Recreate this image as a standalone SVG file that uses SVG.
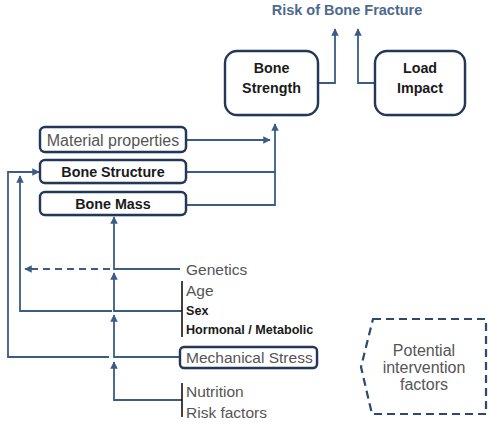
<svg xmlns="http://www.w3.org/2000/svg" width="489" height="425" viewBox="0 0 489 425">
<style>
.box{fill:#fff;stroke:#223856;stroke-width:2.4}
.con{fill:none;stroke:#3b5c84;stroke-width:1.8}
.t{font-family:"Liberation Sans",Arial,sans-serif;fill:#555;font-size:15.5px}
.b{font-family:"Liberation Sans",Arial,sans-serif;fill:#1a1a1a;font-weight:bold;font-size:14.3px}
.s{font-size:12.6px}
.l{font-size:16px}
.bar{stroke:#111;stroke-width:1.6}
</style>
<defs>
<marker id="ah" viewBox="0 0 10 10" refX="9" refY="5" markerWidth="7.5" markerHeight="7.5" markerUnits="userSpaceOnUse" orient="auto"><path d="M0,0 L10,5 L0,10 z" fill="#3b5c84"/></marker>
<filter id="sh" x="-20%" y="-20%" width="140%" height="160%"><feGaussianBlur in="SourceAlpha" stdDeviation="2.2"/><feOffset dx="2" dy="3"/><feComponentTransfer><feFuncA type="linear" slope="0.5"/></feComponentTransfer><feComposite operator="in" in2="SourceAlpha" result="s"/><feFlood flood-color="#2c5a92"/><feComposite operator="in" in2="s"/><feMerge><feMergeNode/><feMergeNode in="SourceGraphic"/></feMerge></filter>
</defs>
<rect width="489" height="425" fill="#fff"/>
<text x="347" y="15" text-anchor="middle" font-family="Liberation Sans,Arial,sans-serif" font-weight="bold" font-size="14.5" fill="#4d6a8c">Risk of Bone Fracture</text>
<g id="connectors">
<path class="con" d="M318,83 H335 V29" marker-end="url(#ah)"/>
<path class="con" d="M375,83 H358 V29" marker-end="url(#ah)"/>
<path class="con" d="M186,140 H270" marker-end="url(#ah)"/>
<path class="con" d="M186,172 H275"/>
<path class="con" d="M186,205 H275 V124" marker-end="url(#ah)"/>
<path class="con" d="M180,269 H114 V217" marker-end="url(#ah)"/>
<path class="con" d="M110,269 H25" stroke-dasharray="7,5" marker-end="url(#ah)"/>
<path class="con" d="M182,311 H114 V273" marker-end="url(#ah)"/>
<path class="con" d="M112,311 H20 V176" marker-end="url(#ah)"/>
<path class="con" d="M180,357 H114 V315" marker-end="url(#ah)"/>
<path class="con" d="M109,357 H8 V172 H39" marker-end="url(#ah)"/>
<path class="con" d="M182,400 H114 V362" marker-end="url(#ah)"/>
</g>
<g id="bone-strength"><rect class="box" x="225" y="51" width="93" height="64" rx="12" filter="url(#sh)"/><text class="b" x="271.5" y="73" text-anchor="middle">Bone</text><text class="b" x="271.5" y="93" text-anchor="middle">Strength</text></g>
<g id="load-impact"><rect class="box" x="375" y="51" width="90" height="64" rx="12" filter="url(#sh)"/><text class="b" x="420" y="73" text-anchor="middle">Load</text><text class="b" x="420" y="93" text-anchor="middle">Impact</text></g>
<g id="material-properties"><rect class="box" x="40" y="127" width="146" height="25" rx="5" stroke-width="1.7" filter="url(#sh)"/><text class="t l" x="113" y="145.5" text-anchor="middle">Material properties</text></g>
<g id="bone-structure"><rect class="box" x="40" y="160" width="146" height="23" rx="5" stroke-width="1.9" filter="url(#sh)"/><text class="b" x="113" y="177" text-anchor="middle">Bone Structure</text></g>
<g id="bone-mass"><rect class="box" x="40" y="192" width="146" height="23" rx="5" stroke-width="1.9" filter="url(#sh)"/><text class="b" x="113" y="209" text-anchor="middle">Bone Mass</text></g>
<g id="genetics"><text class="t" x="186" y="275">Genetics</text></g>
<g id="age-sex-hormonal"><line class="bar" x1="182" y1="281" x2="182" y2="337"/><text class="t" x="186" y="296">Age</text><text class="b s" x="186" y="315">Sex</text><text class="b s" x="186" y="334">Hormonal / Metabolic</text></g>
<g id="mechanical-stress"><rect class="box" x="180" y="347" width="137" height="21" rx="4" stroke-width="1.7" filter="url(#sh)"/><text class="t" x="186" y="363">Mechanical Stress</text></g>
<g id="nutrition-risk"><line class="bar" x1="182" y1="383" x2="182" y2="417"/><text class="t" x="186" y="397">Nutrition</text><text class="t" x="186" y="418">Risk factors</text></g>
<g id="potential-intervention"><path d="M373,319 H486 V414 H372 L361,367 Z" fill="#fff" stroke="#2e4a6e" stroke-width="2.2" stroke-dasharray="8,5" filter="url(#sh)"/><text class="t l" x="424" y="356" text-anchor="middle">Potential</text><text class="t l" x="424" y="373" text-anchor="middle">intervention</text><text class="t l" x="424" y="390" text-anchor="middle">factors</text></g>
</svg>
